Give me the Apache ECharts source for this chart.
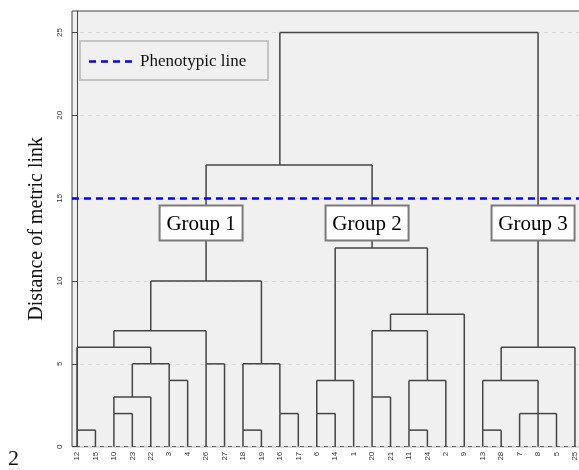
<!DOCTYPE html>
<html>
<head>
<meta charset="utf-8">
<script src="https://cdn.jsdelivr.net/npm/echarts@6/dist/echarts.min.js"></script>
<style>
  html, body { margin: 0; padding: 0; background: #fff; overflow: hidden; }
  #chart { width: 586px; height: 470px; }
</style>
</head>
<body>
<div id="chart"></div>
<script>
// Leaf order along the horizontal axis
const leafLabels = ['12','15','10','23','22','3','4','26','27','18','19','16','17',
                    '6','14','1','20','21','11','24','2','9','13','28','7','8','5','25'];

// Agglomeration steps. Ids below 28 are leaves; step k creates node 28 + k.
const mergeLeft   = [0, 2, 29, 5, 30, 28, 7, 33, 9, 11, 36, 35, 13, 40, 16, 18, 43, 42, 45, 41, 22, 24, 49, 48, 51, 39, 53];
const mergeRight  = [1, 3, 4, 6, 31, 32, 8, 34, 10, 12, 37, 38, 14, 15, 17, 19, 20, 44, 21, 46, 23, 25, 26, 50, 27, 47, 52];
const mergeHeight = [1, 2, 3, 4, 5, 6, 5, 7, 1, 2, 5, 10, 2, 4, 3, 1, 4, 7, 8, 12, 1, 2, 2, 4, 6, 17, 25];
// Leaf slot from which each joined cluster continues upward
const mergeAnchor = [0, 2, 3, 5, 4, 2, 7, 4, 9, 11, 10, 7, 13, 14, 16, 18, 19, 17, 19, 16, 22, 25, 25, 23, 25, 11, 18];

// Cut level and the three clusters it separates
const phenotypicLevel = 15;
const groupNames = ['Group 1', 'Group 2', 'Group 3'];
const groupStep = [11, 19, 24];

const yTicks = [0, 5, 10, 15, 20, 25];

const nLeaves = leafLabels.length;
const nodePos = [];
const nodeHeight = [];
for (let i = 0; i < nLeaves; i++) { nodePos.push(i); nodeHeight.push(0); }
mergeHeight.forEach((h, k) => { nodePos.push(mergeAnchor[k]); nodeHeight.push(h); });

// Segments [x1, y1, x2, y2] in data units
const segments = [];
mergeHeight.forEach((h, k) => {
  const a = mergeLeft[k], b = mergeRight[k];
  segments.push([nodePos[a], h, nodePos[b], h]);
  [a, b].forEach(c => {
    if (nodeHeight[c] < h) segments.push([nodePos[c], nodeHeight[c], nodePos[c], h]);
  });
});

const groupLabelLevel = 13.5;
const groupData = groupNames.map((name, i) => ({
  name: name,
  value: [mergeAnchor[groupStep[i]], groupLabelLevel]
}));

const chart = echarts.init(document.getElementById('chart'), null, { renderer: 'canvas' });

const xMin = -0.271;
const xMax = 27.6;

chart.setOption({
  animation: false,
  backgroundColor: '#ffffff',
  grid: {
    left: 72, top: 11, right: 0, bottom: 23.3,
    show: true, backgroundColor: '#f0f0f0', borderColor: '#444', borderWidth: 1
  },
  xAxis: {
    type: 'value', min: xMin, max: xMax,
    axisLine: { show: false },
    axisTick: { show: false },
    splitLine: { show: false },
    axisLabel: {
      customValues: leafLabels.map((_, i) => i),
      formatter: v => leafLabels[Math.round(v)],
      rotate: 90, fontSize: 8, color: '#333', margin: 5,
      fontFamily: 'Liberation Sans'
    }
  },
  yAxis: {
    type: 'value', min: 0, max: 26.3,
    name: 'Distance of metric link',
    nameLocation: 'middle', nameRotate: 90, nameGap: 25,
    nameTextStyle: { fontFamily: 'Liberation Serif', fontSize: 20, color: '#111' },
    axisLine: { show: true, lineStyle: { color: '#444' } },
    axisTick: { show: true, customValues: yTicks, length: 5, lineStyle: { color: '#444' } },
    axisLabel: {
      customValues: yTicks,
      rotate: 90, fontSize: 8, color: '#333', margin: 8,
      fontFamily: 'Liberation Sans'
    },
    splitLine: {
      show: true,
      lineStyle: { color: '#d6d6d6', type: [4, 4], width: 1 }
    }
  },
  series: [
    {
      type: 'custom',
      data: segments,
      encode: { x: [0, 2], y: [1, 3] },
      z: 2,
      silent: true,
      renderItem: function (params, api) {
        const p1 = api.coord([api.value(0), api.value(1)]);
        const p2 = api.coord([api.value(2), api.value(3)]);
        return {
          type: 'line',
          shape: { x1: p1[0], y1: p1[1], x2: p2[0], y2: p2[1] },
          style: { stroke: '#444', lineWidth: 1.5 }
        };
      },
      markLine: {
        silent: true,
        symbol: 'none',
        label: { show: false },
        lineStyle: { color: '#0000ff', width: 2.5, type: [7, 5] },
        emphasis: { disabled: true },
        data: [{ yAxis: phenotypicLevel }]
      }
    },
    {
      // Boxed cluster names sitting on each group's stem
      type: 'custom',
      data: groupData,
      z: 5,
      silent: true,
      renderItem: function (params, api) {
        const p = api.coord([api.value(0), api.value(1)]);
        const w = 83, h = 35;
        const cx = p[0] - 5, cy = p[1];
        return {
          type: 'group',
          children: [
            { type: 'rect',
              shape: { x: cx - w / 2, y: cy - h / 2, width: w, height: h },
              style: { fill: '#ffffff', stroke: '#7a7a7a', lineWidth: 2 } },
            { type: 'text',
              x: cx, y: cy + 1,
              style: { text: groupNames[params.dataIndex], fontFamily: 'Liberation Serif',
                       fontSize: 21, fill: '#000', align: 'center', verticalAlign: 'middle' } }
          ]
        };
      }
    }
  ],
  graphic: [
    {
      type: 'group', left: 79, top: 40,
      children: [
        { type: 'rect', shape: { x: 0, y: 0, width: 188, height: 39 },
          style: { fill: '#f0f0f0', stroke: '#c4c4c4', lineWidth: 2 } },
        { type: 'line', shape: { x1: 9, y1: 20.5, x2: 55, y2: 20.5 },
          style: { stroke: '#0000ff', lineWidth: 2.5, lineDash: [7, 5] } },
        { type: 'text', x: 60, y: 20.5,
          style: { text: 'Phenotypic line', fontFamily: 'Liberation Serif', fontSize: 17,
                   fill: '#111', verticalAlign: 'middle' } }
      ]
    },
    {
      type: 'text', left: 8, top: 448,
      style: { text: '2', fontFamily: 'Liberation Serif', fontSize: 22, fill: '#111' }
    }
  ]
});
</script>
</body>
</html>
